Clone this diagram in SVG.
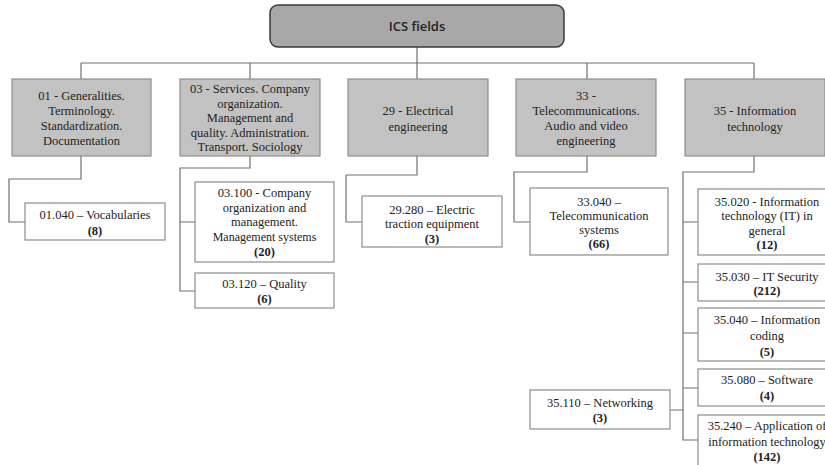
<svg xmlns="http://www.w3.org/2000/svg" width="825" height="465" viewBox="0 0 825 465">
<style>
.root{fill:#a8a8a8;stroke:#3a3a3a;stroke-width:1.5}
.l1{fill:#c2c2c2;stroke:#8c8c8c;stroke-width:1.2}
.l2{fill:#ffffff;stroke:#8c8c8c;stroke-width:1.2}
.c{fill:none;stroke:#707070;stroke-width:1.2}
text{font-family:"Liberation Serif","Times New Roman",serif;font-size:12.5px;fill:#222;text-anchor:middle}
.b{font-weight:bold}
.rt{font-family:"Open Sans","Noto Sans",sans-serif;font-weight:600;font-size:13px;fill:#222}
</style>
<rect x="0" y="0" width="825" height="465" fill="#ffffff"/>
<g id="connectors">
<path class="c" d="M417 47V79M81 63H754M81 63V79M250 63V79M587 63V79M754 63V79"/>
<path class="c" d="M81 156V179H9V222H25"/>
<path class="c" d="M250 156V168H180V291H195M180 222H195"/>
<path class="c" d="M417 156V175H346V222H362"/>
<path class="c" d="M587 156V172H514V222H530"/>
<path class="c" d="M754 156V172H683V440H698M683 222H698M683 282H698M683 333H698M683 388H698M670 410H683"/>
</g>
<g id="root"><rect class="root" x="270" y="5" width="294" height="42" rx="8"/><text class="rt" x="417" y="31">ICS fields</text></g>
<g id="n01"><rect class="l1" x="12" y="79" width="139" height="77"/><text x="81.5" y="100">01 - Generalities.</text><text x="81.5" y="115">Terminology.</text><text x="81.5" y="130">Standardization.</text><text x="81.5" y="145">Documentation</text></g>
<g id="n03"><rect class="l1" x="180" y="79" width="140" height="77"/><text x="250" y="93">03 - Services. Company</text><text x="250" y="107.5">organization.</text><text x="250" y="122">Management and</text><text x="250" y="137">quality. Administration.</text><text x="250" y="151">Transport. Sociology</text></g>
<g id="n29"><rect class="l1" x="348" y="79" width="140" height="77"/><text x="418" y="114.5">29 - Electrical</text><text x="418" y="130.5">engineering</text></g>
<g id="n33"><rect class="l1" x="516" y="79" width="140" height="77"/><text x="586" y="99.5">33 -</text><text x="586" y="114.5">Telecommunications.</text><text x="586" y="130">Audio and video</text><text x="586" y="145">engineering</text></g>
<g id="n35"><rect class="l1" x="685" y="79" width="140" height="77"/><text x="755" y="114.5">35 - Information</text><text x="755" y="130.5">technology</text></g>
<g id="n01040"><rect class="l2" x="25" y="203" width="140" height="37"/><text x="95" y="219">01.040 – Vocabularies</text><text class="b" x="95" y="235">(8)</text></g>
<g id="n03100"><rect class="l2" x="195" y="182" width="139" height="80"/><text x="264.5" y="197">03.100 - Company</text><text x="264.5" y="211.5">organization and</text><text x="264.5" y="226">management.</text><text x="264.5" y="241" style="font-size:12px">Management systems</text><text class="b" x="264.5" y="256">(20)</text></g>
<g id="n03120"><rect class="l2" x="195" y="273" width="139" height="35"/><text x="264.5" y="288">03.120 – Quality</text><text class="b" x="264.5" y="302.5">(6)</text></g>
<g id="n29280"><rect class="l2" x="362" y="196" width="140" height="51"/><text x="432" y="214">29.280 – Electric</text><text x="432" y="228">traction equipment</text><text class="b" x="432" y="242.5">(3)</text></g>
<g id="n33040"><rect class="l2" x="530" y="188" width="138" height="67"/><text x="599" y="206">33.040 –</text><text x="599" y="220">Telecommunication</text><text x="599" y="234">systems</text><text class="b" x="599" y="248">(66)</text></g>
<g id="n35020"><rect class="l2" x="698" y="189" width="138" height="66"/><text x="767" y="206">35.020 - Information</text><text x="767" y="220">technology (IT) in</text><text x="767" y="234.5">general</text><text class="b" x="767" y="249">(12)</text></g>
<g id="n35030"><rect class="l2" x="698" y="264" width="138" height="37"/><text x="767" y="281">35.030 – IT Security</text><text class="b" x="767" y="295">(212)</text></g>
<g id="n35040"><rect class="l2" x="698" y="308" width="138" height="53"/><text x="767" y="324">35.040 – Information</text><text x="767" y="340">coding</text><text class="b" x="767" y="356">(5)</text></g>
<g id="n35080"><rect class="l2" x="698" y="369" width="138" height="37"/><text x="767" y="384">35.080 – Software</text><text class="b" x="767" y="400">(4)</text></g>
<g id="n35240"><rect class="l2" x="698" y="415" width="138" height="60"/><text x="767" y="430">35.240 – Application of</text><text x="767" y="446">information technology</text><text class="b" x="767" y="461">(142)</text></g>
<g id="n35110"><rect class="l2" x="530" y="390" width="140" height="39"/><text x="600" y="407">35.110 – Networking</text><text class="b" x="600" y="422">(3)</text></g>
</svg>
